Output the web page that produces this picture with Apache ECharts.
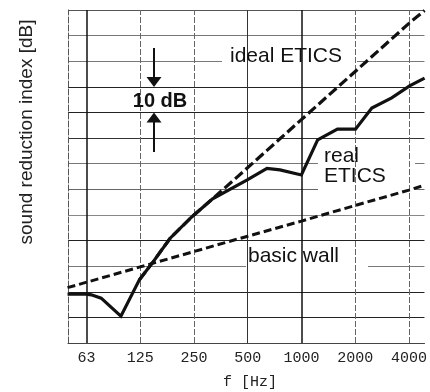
<!DOCTYPE html>
<html><head><meta charset="utf-8">
<script src="https://cdn.jsdelivr.net/npm/echarts@6/dist/echarts.min.js"></script>
<style>html,body{margin:0;padding:0;background:#fff}#c{width:430px;height:392px}</style>
</head><body><div id="c"></div>
<script>
// Octave-band centre frequencies (Hz) and their printed labels
const tickFreqs = [62.5, 125, 250, 500, 1000, 2000, 4000];
const tickLabels = ['63', '125', '250', '500', '1000', '2000', '4000'];
// y grid levels (dB, 10 dB per division)
const yLevels = [0, 10, 20, 30, 40, 50, 60, 70, 80, 90, 100, 110, 120, 130];

// real ETICS
const realFreq = [49, 62.5, 66.6, 75.6, 97.5, 123.5, 145.6, 184, 242, 318, 497, 641, 758, 999, 1232, 1590, 2007, 2477, 3200, 4030, 4890];
const realDb   = [19.1, 19.1, 18.8, 17.5, 10.5, 24.6, 31.1, 40.9, 49.1, 56.3, 63.7, 68.2, 67.6, 65.6, 79.3, 83.5, 83.5, 91.7, 95.7, 100.4, 103.4];
// ideal ETICS
const idealFreq = [123.5, 145.6, 184, 242, 318, 497, 999, 2007, 4030, 4890];
const idealDb   = [24.6, 31.1, 40.9, 49.1, 56.3, 68.3, 87.2, 106.1, 125.0, 129.8];
// basic wall
const basicFreq = [49, 125, 250, 500, 1000, 2000, 4000, 4890];
const basicDb   = [21.6, 29.7, 35.7, 41.7, 47.6, 53.7, 59.7, 61.6];

const oct = f => Math.log2(f / 62.5);
const pts = (fs, ds) => fs.map((f, i) => [oct(f), ds[i]]);

const vStyles = [
  {color: '#111', width: 1.5, type: 'solid'},
  {color: '#666', width: 1, type: [6, 2]},
  {color: '#666', width: 1, type: [6, 2]},
  {color: '#333', width: 1, type: 'solid'},
  {color: '#111', width: 1.5, type: 'solid'},
  {color: '#666', width: 1, type: [6, 2]},
  {color: '#666', width: 1, type: [6, 2]}
];
const hColors = ['#444', '#222', '#222', '#777', '#222', '#888', '#666', '#777', '#333', '#222', '#222', '#777', '#777', '#555'];

const chart = echarts.init(document.getElementById('c'), null, {renderer: 'canvas'});
const txt = {fontFamily: 'Liberation Sans, Arial, sans-serif', fill: '#111'};
chart.setOption({
  animation: false,
  backgroundColor: '#fff',
  grid: {left: 68, right: 0, top: 10, bottom: 49},
  xAxis: {
    type: 'value', min: -0.3425, max: 6.288,
    axisLine: {show: true, onZero: false, lineStyle: {color: '#444', width: 1}},
    axisTick: {show: false},
    splitLine: {show: false},
    axisLabel: {
      customValues: tickFreqs.map(oct),
      formatter: v => tickLabels[Math.round(v)],
      fontFamily: 'Liberation Mono, monospace', fontSize: 15, color: '#222', margin: 8
    }
  },
  yAxis: {
    type: 'value', min: 0, max: 130, interval: 10,
    axisLine: {show: true, onZero: false, lineStyle: {color: '#555', width: 1, type: [6, 2]}},
    axisTick: {show: false},
    axisLabel: {show: false},
    splitLine: {show: true, lineStyle: {color: hColors, width: 1}}
  },
  series: [
    {
      type: 'line', data: [], z: 0, silent: true,
      markLine: {
        silent: true, symbol: 'none', label: {show: false}, animation: false,
        data: tickFreqs.map((f, i) => ({xAxis: oct(f), lineStyle: vStyles[i]}))
      }
    },
    {
      name: 'basic wall', type: 'line', z: 5, symbol: 'none',
      data: pts(basicFreq, basicDb),
      lineStyle: {color: '#111', width: 3, type: [8, 4]}
    },
    {
      name: 'ideal ETICS', type: 'line', z: 5, symbol: 'none',
      data: pts(idealFreq, idealDb),
      lineStyle: {color: '#111', width: 3.2, type: [10, 4]}
    },
    {
      name: 'real ETICS', type: 'line', z: 6, symbol: 'none',
      data: pts(realFreq, realDb),
      lineStyle: {color: '#111', width: 3.2, join: 'miter'}
    }
  ],
  graphic: [
    {type: 'rect', z: 1, shape: {x: 222, y: 37, width: 135, height: 35}, style: {fill: '#fff'}},
    {type: 'rect', z: 1, shape: {x: 318, y: 141, width: 97, height: 55}, style: {fill: '#fff'}},
    {type: 'rect', z: 1, shape: {x: 246, y: 247, width: 122, height: 25}, style: {fill: '#fff'}},
    {type: 'rect', z: 1, shape: {x: 130, y: 89, width: 62, height: 22}, style: {fill: '#fff'}},
    {type: 'text', z: 10, style: Object.assign({text: 'ideal ETICS', x: 230, y: 56, fontSize: 21, verticalAlign: 'middle'}, txt)},
    {type: 'text', z: 10, style: Object.assign({text: 'real', x: 324, y: 156, fontSize: 21, verticalAlign: 'middle'}, txt)},
    {type: 'text', z: 10, style: Object.assign({text: 'ETICS', x: 324, y: 176.5, fontSize: 21, verticalAlign: 'middle'}, txt)},
    {type: 'text', z: 10, style: Object.assign({text: 'basic wall', x: 248, y: 256, fontSize: 21, verticalAlign: 'middle'}, txt)},
    {type: 'text', z: 10, style: Object.assign({text: '10 dB', x: 160, y: 101.5, fontSize: 20, fontWeight: 'bold', align: 'center', verticalAlign: 'middle'}, txt)},
    {type: 'line', z: 10, shape: {x1: 154, y1: 48, x2: 154, y2: 78}, style: {stroke: '#111', lineWidth: 2}},
    {type: 'polygon', z: 10, shape: {points: [[146.5, 77], [161.5, 77], [154, 87]]}, style: {fill: '#111'}},
    {type: 'polygon', z: 10, shape: {points: [[146.5, 122.5], [161.5, 122.5], [154, 112.5]]}, style: {fill: '#111'}},
    {type: 'line', z: 10, shape: {x1: 154, y1: 122, x2: 154, y2: 152}, style: {stroke: '#111', lineWidth: 2}},
    {type: 'text', z: 10, rotation: Math.PI / 2, x: 27, y: 132,
      style: {text: 'sound reduction index [dB]', fontFamily: 'Liberation Sans, Arial, sans-serif', fontSize: 19, fill: '#222', align: 'center', verticalAlign: 'middle'}},
    {type: 'text', z: 10, x: 250, y: 382,
      style: {text: 'f [Hz]', fontFamily: 'Liberation Mono, monospace', fontSize: 15, fill: '#222', align: 'center', verticalAlign: 'middle'}}
  ]
});
</script>
</body></html>
